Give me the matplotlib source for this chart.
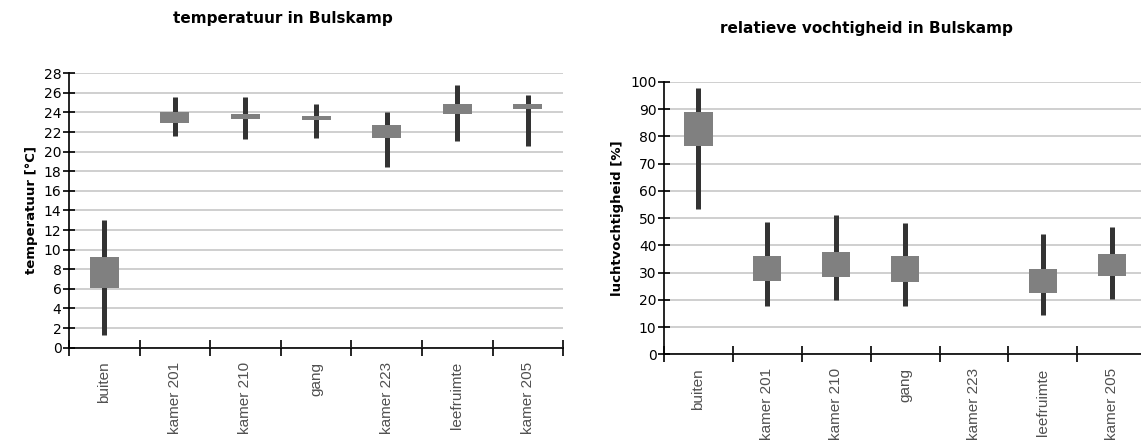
import numpy as np
import matplotlib
matplotlib.use("Agg")
import matplotlib.pyplot as plt
from matplotlib import font_manager

# data
locaties = ['buiten', 'kamer 201', 'kamer 210', 'gang', 'kamer 223', 'leefruimte', 'kamer 205']

temp_min = [1.3, 21.6, 21.3, 21.4, 18.4, 21.1, 20.6]
temp_max = [13.0, 25.6, 25.6, 24.9, 24.0, 26.8, 25.8]
temp_laag = [6.1, 22.9, 23.3, 23.2, 21.4, 23.8, 24.35]
temp_hoog = [9.3, 24.0, 23.8, 23.6, 22.7, 24.9, 24.9]

rv_min = [53.5, 17.7, 19.9, 17.7, np.nan, 14.3, 20.2]
rv_max = [97.6, 48.7, 51.3, 48.2, np.nan, 44.1, 46.8]
rv_laag = [76.6, 27.0, 28.4, 26.4, np.nan, 22.4, 28.9]
rv_hoog = [89.0, 36.1, 37.4, 36.1, np.nan, 31.4, 36.8]

# smal lettertype voor de categorieen als het er is
namen = {f.name for f in font_manager.fontManager.ttflist}
if 'Liberation Sans Narrow' in namen:
    smal, smal_grootte = 'Liberation Sans Narrow', 12
else:
    smal, smal_grootte = 'Liberation Sans', 11

fig = plt.figure(figsize=(11.41, 4.48), dpi=100)


def teken(ax, vmin, vmax, laag, hoog, ymax, ystap, ylabel, boxw):
    x = np.arange(len(locaties))
    ax.set_xlim(-0.5, len(locaties) - 0.5)
    ax.set_ylim(0, ymax)
    ax.set_yticks(np.arange(0, ymax + 0.1, ystap))
    ax.grid(axis='y', color='#cccccc', linewidth=1.3)
    ax.set_axisbelow(True)
    ax.vlines(x, vmin, vmax, color='#333333', linewidth=3.6, zorder=2)
    ax.bar(x, np.array(hoog) - np.array(laag), bottom=laag, width=boxw,
           color='#808080', zorder=3)
    # ticks tussen de categorieen, labels in het midden
    ax.set_xticks(np.arange(-0.5, len(locaties)), minor=False)
    ax.set_xticklabels([])
    ax.set_xticks(x, minor=True)
    ax.set_xticklabels(locaties, minor=True, rotation=90, va='top',
                       fontsize=smal_grootte, color='#505050', family=smal)
    ax.tick_params(axis='x', which='major', direction='inout', length=11, width=1.2)
    ax.tick_params(axis='x', which='minor', length=0, pad=10)
    ax.tick_params(axis='y', direction='inout', length=9, width=1.2,
                   labelsize=10, pad=1)
    for s in ['top', 'right']:
        ax.spines[s].set_visible(False)
    ax.spines['left'].set_linewidth(1.2)
    ax.spines['bottom'].set_linewidth(1.2)
    ax.set_ylabel(ylabel, fontsize=9.5, fontweight='bold', labelpad=4)


ax1 = fig.add_axes([0.0605, 0.224, 0.433, 0.6125])
teken(ax1, temp_min, temp_max, temp_laag, temp_hoog, 28, 2, 'temperatuur [°C]', 0.41)

ax2 = fig.add_axes([0.582, 0.209, 0.4225, 0.6085])
teken(ax2, rv_min, rv_max, rv_laag, rv_hoog, 100, 10, 'luchtvochtigheid [%]', 0.41)

fig.text(0.248, 0.958, 'temperatuur in Bulskamp', ha='center', va='center',
         fontsize=11, fontweight='bold')
fig.text(0.759, 0.9375, 'relatieve vochtigheid in Bulskamp', ha='center', va='center',
         fontsize=11, fontweight='bold')

fig.savefig('out.png', dpi=100)
